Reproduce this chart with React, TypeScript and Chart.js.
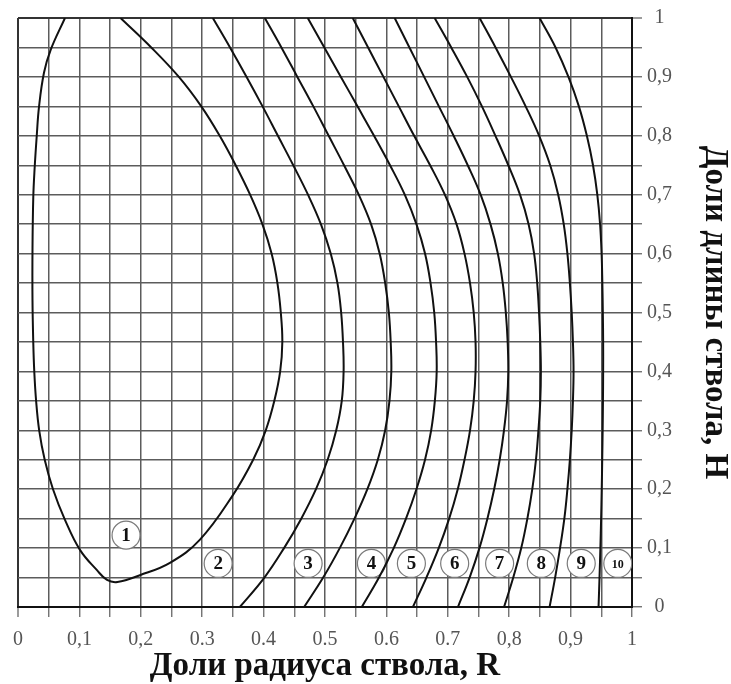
import React, { useEffect, useRef } from "react";
import { Chart, registerables } from "chart.js";

Chart.register(...registerables);

// Y levels (fractions of trunk length) at which the isoline x-values are read
const levelsY = [1, 0.95, 0.9, 0.85, 0.8, 0.75, 0.7, 0.65, 0.6, 0.55, 0.5, 0.45, 0.4, 0.35, 0.3, 0.25, 0.2, 0.15, 0.1, 0.05, 0];

// Loop (zone 1 boundary), traced as a path from the top-left end round to the top-right end
const loopX = [0.0765, 0.0532, 0.0423, 0.0342, 0.0304, 0.0272, 0.0249, 0.0236, 0.0236, 0.0249, 0.0265, 0.0295, 0.0345, 0.0435, 0.057, 0.0765, 0.1009, 0.1286, 0.145, 0.162, 0.1985, 0.2474, 0.296, 0.35, 0.383, 0.4035, 0.4175, 0.427, 0.4305, 0.428, 0.4225, 0.413, 0.398, 0.378, 0.3545, 0.3285, 0.2985, 0.262, 0.217, 0.167];
const loopY = [1.0, 0.946, 0.907, 0.849, 0.798, 0.747, 0.696, 0.606, 0.521, 0.448, 0.4, 0.35, 0.3, 0.25, 0.2, 0.148, 0.097, 0.0625, 0.046, 0.0425, 0.054, 0.075, 0.114, 0.19, 0.25, 0.3, 0.35, 0.4, 0.45, 0.5, 0.55, 0.6, 0.65, 0.7, 0.75, 0.8, 0.85, 0.9, 0.95, 1.0];

// Isolines (x value at each of levelsY)
const line2X = [0.3173, 0.3453, 0.3723, 0.3983, 0.4233, 0.4483, 0.4723, 0.4933, 0.5093, 0.5203, 0.5263, 0.5293, 0.5303, 0.5273, 0.5183, 0.5043, 0.4853, 0.4613, 0.4333, 0.4013, 0.3613];
const line3X = [0.402, 0.429, 0.455, 0.481, 0.506, 0.531, 0.555, 0.575, 0.589, 0.598, 0.604, 0.607, 0.608, 0.605, 0.598, 0.586, 0.569, 0.548, 0.524, 0.497, 0.466];
const line4X = [0.4719, 0.4989, 0.5259, 0.5529, 0.5799, 0.6059, 0.6299, 0.6489, 0.6629, 0.6719, 0.6779, 0.6809, 0.6819, 0.6789, 0.6729, 0.6629, 0.6489, 0.6319, 0.6119, 0.5879, 0.5599];
const line5X = [0.5452, 0.5702, 0.5952, 0.6202, 0.6452, 0.6712, 0.6952, 0.7142, 0.7272, 0.7362, 0.7422, 0.7452, 0.7452, 0.7422, 0.7362, 0.7272, 0.7162, 0.7022, 0.6852, 0.6652, 0.6432];
const line6X = [0.6135, 0.6375, 0.6615, 0.6855, 0.7095, 0.7325, 0.7535, 0.7695, 0.7815, 0.7895, 0.7945, 0.7975, 0.7985, 0.7965, 0.7915, 0.7845, 0.7755, 0.7645, 0.7515, 0.7355, 0.7165];
const line7X = [0.6786, 0.7056, 0.7316, 0.7556, 0.7776, 0.7986, 0.8176, 0.8316, 0.8406, 0.8456, 0.8486, 0.8506, 0.8516, 0.8506, 0.8476, 0.8436, 0.8376, 0.8296, 0.8196, 0.8066, 0.7916];
const line8X = [0.7518, 0.7778, 0.8028, 0.8268, 0.8488, 0.8668, 0.8798, 0.8888, 0.8948, 0.8988, 0.9018, 0.9038, 0.9048, 0.9038, 0.9018, 0.8988, 0.8948, 0.8898, 0.8828, 0.8748, 0.8658];
const line9X = [0.8495, 0.8755, 0.8965, 0.9135, 0.9265, 0.9365, 0.9435, 0.948, 0.9505, 0.9517, 0.9525, 0.953, 0.953, 0.9527, 0.9522, 0.9515, 0.9507, 0.9497, 0.9485, 0.9471, 0.9455];

// Zone markers
const zoneLabels = ["1", "2", "3", "4", "5", "6", "7", "8", "9", "10"];
const zoneX = [0.176, 0.326, 0.4725, 0.5756, 0.6407, 0.7112, 0.7844, 0.8523, 0.9173, 0.9769];
const zoneY = [0.122, 0.074, 0.074, 0.074, 0.074, 0.074, 0.074, 0.074, 0.074, 0.074];

// Tick labels
const xTickLabels = ["0", "0,1", "0,2", "0.3", "0.4", "0.5", "0.6", "0.7", "0,8", "0,9", "1"];
const yTickLabels = ["0", "0,1", "0,2", "0,3", "0,4", "0,5", "0,6", "0,7", "0,8", "0,9", "1"];

const xTitle = "Доли радиуса ствола, R";
const yTitle = "Доли длины ствола, Н";

const SERIF = '"Liberation Serif", "Times New Roman", serif';

export default function App() {
  const canvasRef = useRef<HTMLCanvasElement | null>(null);

  useEffect(() => {
    const canvas = canvasRef.current;
    if (!canvas) return;

    const lineStyle = {
      showLine: true,
      borderColor: "#111",
      borderWidth: 2,
      pointRadius: 0,
      pointHoverRadius: 0,
      tension: 0.4,
      fill: false,
    };

    const isolines = [line2X, line3X, line4X, line5X, line6X, line7X, line8X, line9X];

    const datasets: any[] = [
      {
        ...lineStyle,
        label: "1",
        data: loopX.map((x, i) => ({ x, y: loopY[i] })),
      },
      ...isolines.map((arr, k) => ({
        ...lineStyle,
        label: "line" + (k + 2),
        data: arr.map((x, i) => ({ x, y: levelsY[i] })),
      })),
      {
        label: "zones",
        showLine: false,
        data: zoneX.map((x, i) => ({ x, y: zoneY[i] })),
        pointRadius: 14,
        pointHoverRadius: 14,
        pointBackgroundColor: "#fff",
        pointBorderColor: "#7a7a7a",
        pointBorderWidth: 1.2,
      },
    ];

    const zoneText = {
      id: "zoneText",
      afterDatasetsDraw(chart: any) {
        const meta = chart.getDatasetMeta(chart.data.datasets.length - 1);
        const ctx = chart.ctx;
        ctx.save();
        ctx.textAlign = "center";
        ctx.textBaseline = "middle";
        ctx.fillStyle = "#111";
        meta.data.forEach((pt: any, i: number) => {
          const t = zoneLabels[i];
          ctx.font = `bold ${t.length > 1 ? 12 : 19}px ${SERIF}`;
          ctx.fillText(t, pt.x, pt.y + 1);
        });
        ctx.restore();
      },
    };

    const gridColor = "#5c5c5c";

    const chart = new Chart(canvas, {
      type: "scatter",
      data: { datasets },
      plugins: [zoneText],
      options: {
        animation: false,
        responsive: false,
        maintainAspectRatio: false,
        layout: { padding: { left: 18, top: 18, right: 0, bottom: 0 } },
        plugins: {
          legend: { display: false },
          tooltip: { enabled: false },
        },
        scales: {
          x: {
            type: "linear",
            position: "bottom",
            min: 0,
            max: 1,
            afterFit: (s: any) => {
              s.height = 77;
            },
            ticks: {
              stepSize: 0.05,
              autoSkip: false,
              maxRotation: 0,
              minRotation: 0,
              padding: 11,
              color: "#555",
              font: { family: SERIF, size: 20 },
              callback: (v: any) => {
                const n = Math.round(Number(v) * 100);
                return n % 10 === 0 ? xTickLabels[n / 10] : "";
              },
            },
            grid: {
              color: (c: any) => (c.tick && c.tick.value === 0 ? "#333" : gridColor),
              lineWidth: (c: any) => (c.tick && c.tick.value === 0 ? 2 : 1.5),
              tickLength: 10,
              tickColor: "#666",
              tickWidth: 1.3,
            },
            border: { display: true, color: "#111", width: 2 },
            title: {
              display: true,
              text: xTitle,
              color: "#111",
              font: { family: SERIF, size: 33, weight: "bold" },
              padding: { top: 0, bottom: -2 },
            },
          },
          y: {
            type: "linear",
            position: "right",
            min: 0,
            max: 1,
            afterFit: (s: any) => {
              s.width = 99;
            },
            ticks: {
              stepSize: 0.05,
              autoSkip: false,
              crossAlign: "center",
              padding: 5,
              color: "#555",
              font: { family: SERIF, size: 20 },
              callback: (v: any) => {
                const n = Math.round(Number(v) * 100);
                return n % 10 === 0 ? yTickLabels[n / 10] : "";
              },
            },
            grid: {
              color: (c: any) => (c.tick && c.tick.value === 1 ? "#333" : gridColor),
              lineWidth: (c: any) => (c.tick && c.tick.value === 1 ? 2 : 1.5),
              tickLength: 10,
              tickColor: "#666",
              tickWidth: 1.3,
            },
            border: { display: true, color: "#111", width: 2 },
            title: {
              display: true,
              text: yTitle,
              color: "#111",
              font: { family: SERIF, size: 33, weight: "bold" },
              padding: { top: -3, bottom: 0 },
            },
          },
        },
      },
    });

    return () => chart.destroy();
  }, []);

  return (
    <div style={{ position: "fixed", left: 0, top: 0, width: 731, height: 684, background: "#fff" }}>
      <canvas ref={canvasRef} width={731} height={684} style={{ width: 731, height: 684, display: "block" }} />
    </div>
  );
}
